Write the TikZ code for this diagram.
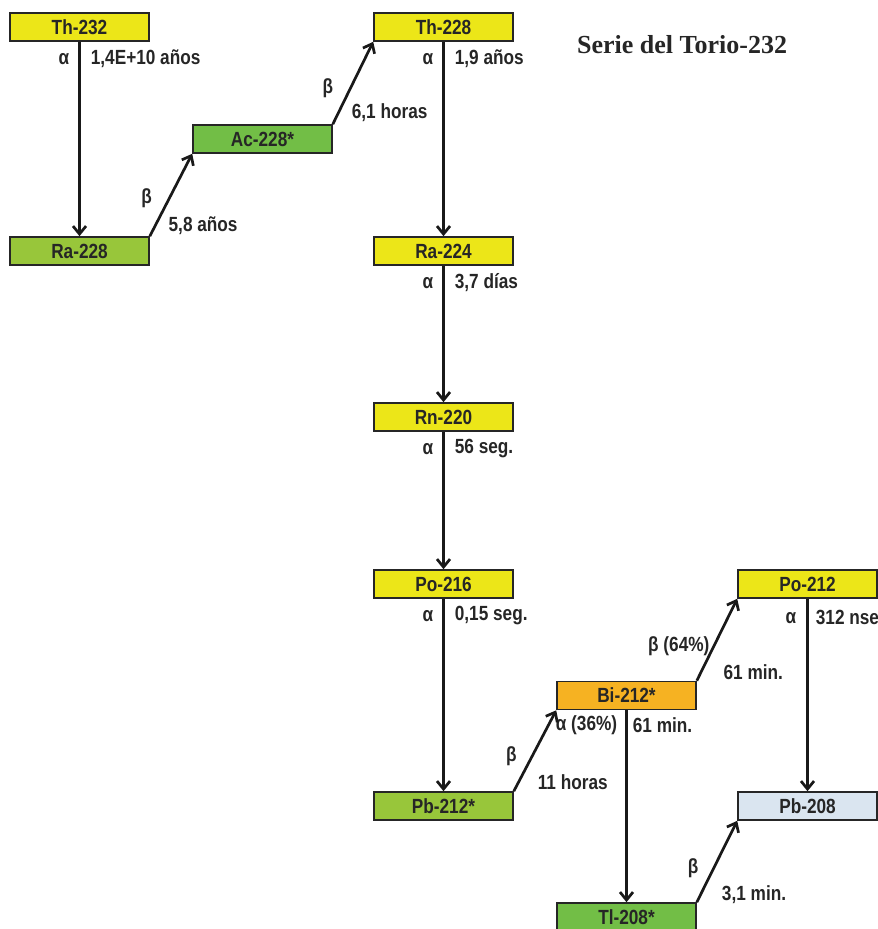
\documentclass[tikz,border=0pt]{standalone}
\usepackage{fontspec}
\setmainfont[FakeStretch=0.84]{Liberation Sans}
\newfontfamily\titulofont{Liberation Serif}
\usetikzlibrary{arrows.meta}

\definecolor{amarillo}{RGB}{236,230,24}
\definecolor{verdeclaro}{RGB}{152,198,58}
\definecolor{verde}{RGB}{114,190,70}
\definecolor{naranja}{RGB}{246,178,34}
\definecolor{celeste}{RGB}{218,229,240}

\begin{document}
\begin{tikzpicture}[x=1pt,y=-1pt,
        nucleo/.style={draw=black!85,line width=1.6pt,minimum width=139pt,minimum height=28pt,
            inner sep=0pt,text=black!85,font=\fontsize{20.5}{22}\selectfont\bfseries},
        decae/.style={line width=2.7pt,black!90,-{Straight Barb[length=8pt,width=13pt]}},
        etiq/.style={inner sep=0pt,text=black!85,font=\fontsize{20.5}{22}\selectfont\bfseries},
        alfa/.style={etiq,pos=0,anchor=east,xshift=-9pt,yshift=-17pt},
        tiempo/.style={etiq,pos=0,anchor=west,xshift=10pt,yshift=-17pt}]

    \useasboundingbox (0,0) rectangle (878,929);

    % Titulo
    \node[anchor=base,font=\titulofont\fontsize{26}{30}\selectfont\bfseries,text=black!85] (titulo) at (682,53) {Serie del Torio-232};

    % Nucleos
    \node[nucleo,fill=amarillo]   (th232) at (79.5,27)   {Th-232};
    \node[nucleo,fill=verdeclaro] (ra228) at (79.5,251)  {Ra-228};
    \node[nucleo,fill=verde]      (ac228) at (262.5,139) {Ac-228*};
    \node[nucleo,fill=amarillo]   (th228) at (443.5,27)  {Th-228};
    \node[nucleo,fill=amarillo]   (ra224) at (443.5,251) {Ra-224};
    \node[nucleo,fill=amarillo]   (rn220) at (443.5,417) {Rn-220};
    \node[nucleo,fill=amarillo]   (po216) at (443.5,584) {Po-216};
    \node[nucleo,fill=verdeclaro] (pb212) at (443.5,806) {Pb-212*};
    \node[nucleo,fill=naranja]    (bi212) at (626.5,695.5) {Bi-212*};
    \node[nucleo,fill=amarillo]   (po212) at (807.5,584) {Po-212};
    \node[nucleo,fill=celeste]    (pb208) at (807.5,806) {Pb-208};
    \node[nucleo,fill=verde]      (tl208) at (626.5,917) {Tl-208*};

    % Desintegraciones alfa
    \draw[decae] (th232) -- (ra228) node[alfa] {α} node[tiempo] {1,4E+10 años};
    \draw[decae] (th228) -- (ra224) node[alfa] {α} node[tiempo] {1,9 años};
    \draw[decae] (ra224) -- (rn220) node[alfa] {α} node[tiempo] {3,7 días};
    \draw[decae] (rn220) -- (po216) node[alfa] {α} node[tiempo] {56 seg.};
    \draw[decae] (po216) -- (pb212) node[alfa] {α} node[tiempo] {0,15 seg.};
    \draw[decae] (bi212) -- (tl208) node[alfa,xshift=1pt,yshift=2pt] {α (36\%)} node[tiempo,xshift=-5pt,yshift=2pt] {61 min.};
    \draw[decae] (po212) -- (pb208) node[alfa,xshift=-1pt,yshift=-2pt] {α} node[tiempo,xshift=-3pt,yshift=-2pt] {312 nse};

    % Desintegraciones beta
    \draw[decae] (ra228.north east) -- (ac228.south west)
        node[etiq,pos=0.46,left=16pt] {β} node[etiq,pos=0.13,right=12pt] {5,8 años};
    \draw[decae] (ac228.north east) -- (th228.south west)
        node[etiq,pos=0.44,left=16pt] {β} node[etiq,pos=0.14,right=12pt] {6,1 horas};
    \draw[decae] (pb212.north east) -- (bi212.south west)
        node[etiq,pos=0.43,left=14pt] {β} node[etiq,pos=0.11,right=18pt] {11 horas};
    \draw[decae] (bi212.north east) -- (po212.south west)
        node[etiq,pos=0.42,left=3pt] {β (64\%)} node[etiq,pos=0.11,right=21pt] {61 min.};
    \draw[decae] (tl208.north east) -- (pb208.south west)
        node[etiq,pos=0.42,left=14pt] {β} node[etiq,pos=0.095,right=20pt] {3,1 min.};

\end{tikzpicture}
\end{document}
